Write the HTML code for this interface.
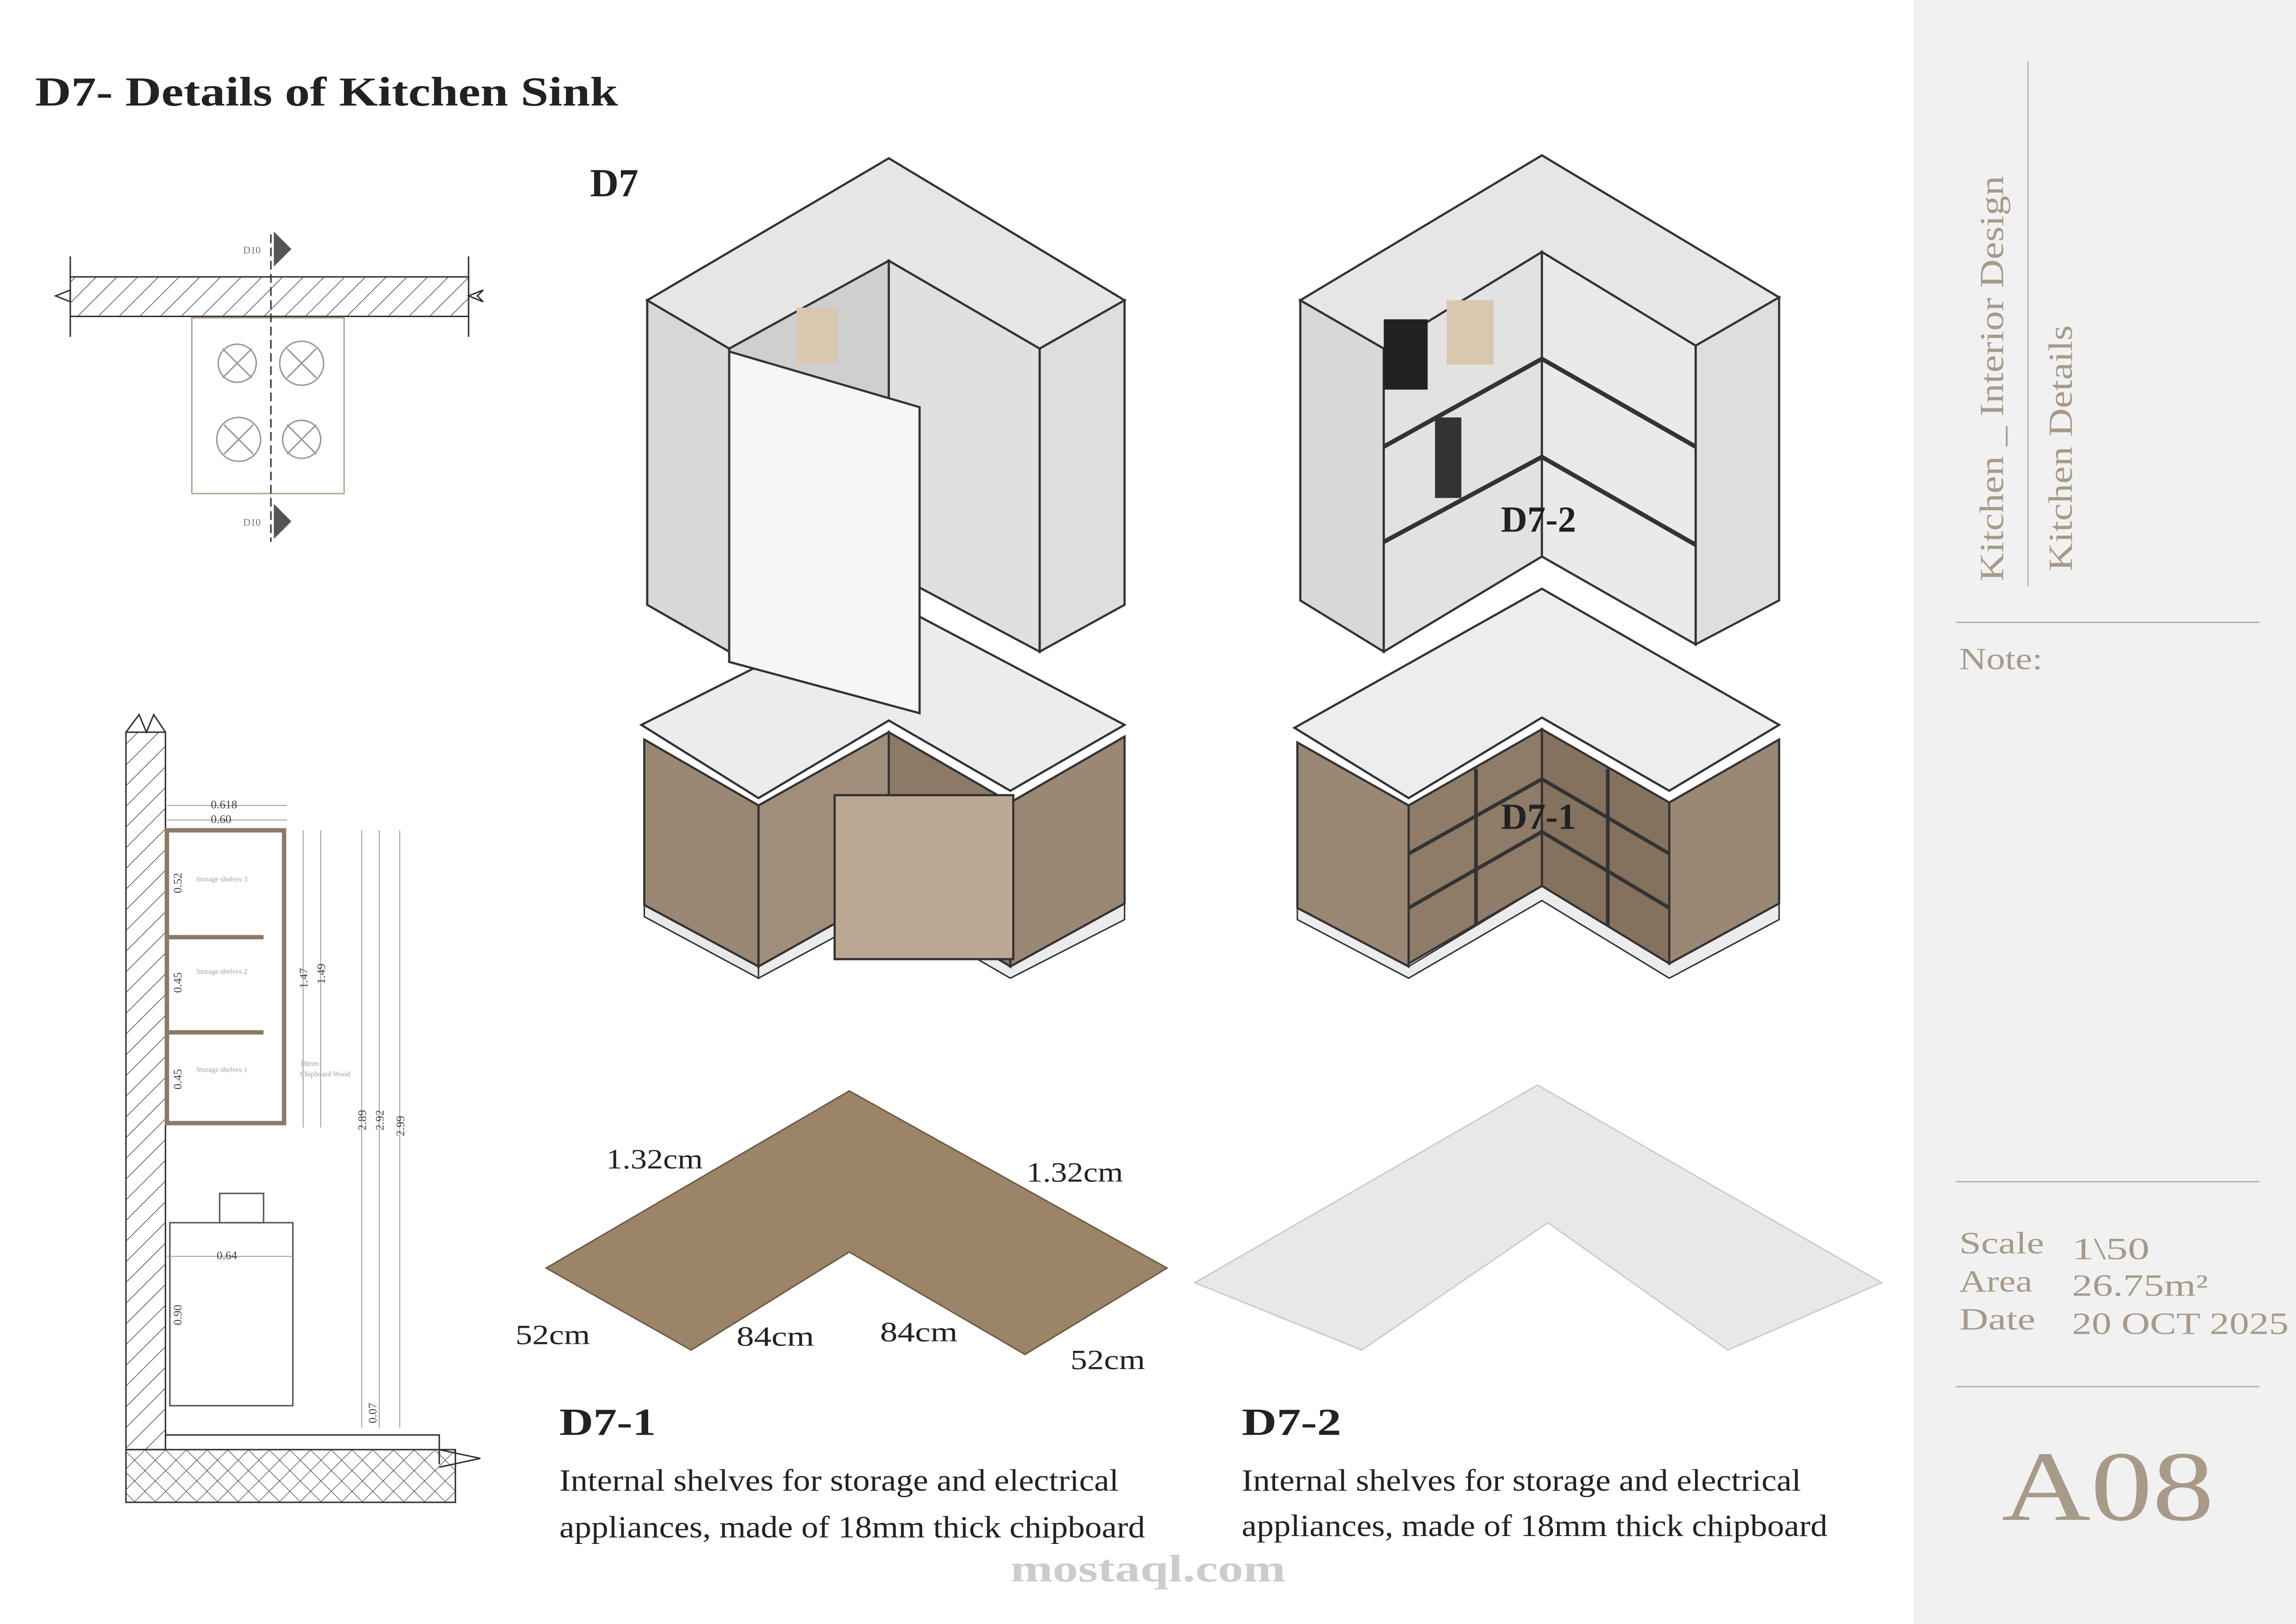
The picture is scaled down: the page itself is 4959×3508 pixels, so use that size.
<!DOCTYPE html>
<html><head><meta charset="utf-8"><style>
html,body{margin:0;padding:0;background:#fff;}
svg{display:block;}
text{font-family:"Liberation Serif",serif;}
</style></head><body>
<svg width="4959" height="3508" viewBox="0 0 1568 1109" xmlns="http://www.w3.org/2000/svg">
<defs>
<pattern id="hatch" width="10" height="10" patternUnits="userSpaceOnUse" patternTransform="rotate(45)"><line x1="0" y1="0" x2="0" y2="10" stroke="#333" stroke-width="0.8"/></pattern>
<pattern id="cross" width="10" height="10" patternUnits="userSpaceOnUse" patternTransform="rotate(45)"><line x1="0" y1="0" x2="0" y2="10" stroke="#333" stroke-width="0.7"/><line x1="0" y1="0" x2="10" y2="0" stroke="#333" stroke-width="0.7"/></pattern>
</defs>
<rect width="1568" height="1109" fill="#fff"/>
<rect x="1307" y="0" width="261" height="1109" fill="#f1f1f1"/>
<text x="24" y="72" font-size="28" font-weight="bold" fill="#222" textLength="398" lengthAdjust="spacingAndGlyphs">D7- Details of Kitchen Sink</text>

<!-- plan -->
<g stroke="#333" fill="none" stroke-width="1">
<rect x="48" y="189" width="272" height="27" fill="url(#hatch)"/>
<path d="M48,175 V189 M48,216 V230 M38,202 L48,198 L48,206Z M320,175 V230 M320,202 l10,-4 l-4,4 l4,4Z"/>
<rect x="131" y="217" width="104" height="120" stroke="#b5a58e"/>
<g stroke="#999"><circle cx="162" cy="248" r="13"/><circle cx="206" cy="248" r="15"/><circle cx="163" cy="300" r="15"/><circle cx="206" cy="300" r="13"/>
<path d="M152,238l20,20M172,238l-20,20M196,238l20,20M216,238l-20,20M153,290l20,20M173,290l-20,20M196,290l20,20M216,290l-20,20"/></g>
<line x1="185" y1="160" x2="185" y2="370" stroke-dasharray="6,3"/>
</g>
<path d="M187,158 L199,170 L187,182Z M187,344 L199,356 L187,368Z" fill="#555"/>
<text x="166" y="173" font-size="7" fill="#777">D10</text><text x="166" y="359" font-size="7" fill="#777">D10</text>

<!-- section -->
<g stroke="#333" fill="none" stroke-width="1">
<rect x="86" y="500" width="27" height="490" fill="url(#hatch)"/>
<path d="M86,500 L95,488 L100,500 L105,488 L113,500"/>
<rect x="86" y="990" width="225" height="36" fill="url(#cross)"/>
<path d="M113,980 H300 V1000 M300,990 L328,996 L300,1002"/>
<rect x="114" y="567" width="80" height="200" stroke="#8b7a66" stroke-width="3"/>
<line x1="114" y1="640" x2="180" y2="640" stroke="#8b7a66" stroke-width="3"/>
<line x1="114" y1="705" x2="180" y2="705" stroke="#8b7a66" stroke-width="3"/>
<rect x="116" y="835" width="84" height="125" stroke="#555"/>
<rect x="150" y="815" width="30" height="20" stroke="#555"/>
<g stroke="#999" stroke-width="0.6"><path d="M114,550 H196 M114,560 H196 M114,858 H200 M207,567 V770 M219,567 V770 M247,567 V975 M259,567 V975 M273,567 V975"/></g>
</g>
<g font-size="8" fill="#444"><text x="144" y="552">0.618</text><text x="144" y="562">0.60</text><text x="148" y="860">0.64</text>
<text transform="translate(124,610) rotate(-90)">0.52</text><text transform="translate(124,678) rotate(-90)">0.45</text><text transform="translate(124,744) rotate(-90)">0.45</text>
<text transform="translate(210,675) rotate(-90)">1.47</text><text transform="translate(222,672) rotate(-90)">1.49</text>
<text transform="translate(250,772) rotate(-90)">2.89</text><text transform="translate(262,772) rotate(-90)">2.92</text><text transform="translate(276,776) rotate(-90)">2.99</text>
<text transform="translate(124,905) rotate(-90)">0.90</text><text transform="translate(257,972) rotate(-90)">0.07</text></g>
<g font-size="5" fill="#a89a88"><text x="134" y="602">Storage shelves 3</text><text x="134" y="665">Storage shelves 2</text><text x="134" y="732">Storage shelves 1</text><text x="205" y="728">18mm</text><text x="205" y="735">Chipboard Wood</text></g>

<!-- D7 left iso -->
<text x="403" y="134" font-size="27" font-weight="bold" fill="#222">D7</text>
<g stroke="#333" stroke-width="1.5">
<polygon points="442,205 607,108 768,205 710,238 607,178 498,238" fill="#e6e6e6"/>
<polygon points="442,205 498,238 498,445 442,413" fill="#d8d8d8"/>
<polygon points="768,205 768,413 710,445 710,238" fill="#dedede"/>
<polygon points="498,238 607,178 607,390 498,450" fill="#cfcfcf"/>
<polygon points="607,178 710,238 710,445 607,390" fill="#e0e0e0"/>
<polygon points="440,618 518,660 518,668 440,626 Z" fill="#e8e8e8" stroke-width="1"/>
<polygon points="518,660 607,610 690,660 768,617 768,628 690,668 607,620 518,668Z" fill="#ececec" stroke-width="1"/>
<polygon points="440,505 518,550 518,660 440,618" fill="#9a8774"/>
<polygon points="518,550 607,500 607,610 518,660" fill="#a18e7a"/>
<polygon points="607,500 690,548 690,660 607,610" fill="#8c7966"/>
<polygon points="690,548 768,503 768,617 690,660" fill="#9a8774"/>
<polygon points="438,495 607,410 768,495 690,540 607,492 518,545" fill="#ececec"/>
<polygon points="498,240 628,278 628,487 498,452" fill="#f6f6f6"/>
<rect x="570" y="543" width="122" height="112" fill="#bba893"/>
</g>
<rect x="544" y="210" width="28" height="38" fill="#d9c7b0"/>

<!-- D7-2 right iso -->
<g stroke="#333" stroke-width="1.5">
<polygon points="888,205 1053,106 1215,203 1158,236 1053,172 945,238" fill="#e6e6e6"/>
<polygon points="888,205 945,238 945,445 888,410" fill="#d8d8d8"/>
<polygon points="1215,203 1215,410 1158,440 1158,236" fill="#dedede"/>
<polygon points="945,238 1053,172 1053,380 945,445" fill="#e2e2e2"/>
<polygon points="1053,172 1158,236 1158,440 1053,380" fill="#eaeaea"/>
<path d="M945,305 L1053,245 L1158,305 M945,370 L1053,312 L1158,372" fill="none" stroke-width="3"/>
<polygon points="886,620 962,660 1053,605 1140,658 1215,617 1215,628 1140,668 1053,615 962,668 886,628Z" fill="#ececec" stroke-width="1"/>
<polygon points="886,507 962,550 962,660 886,620" fill="#9a8774"/>
<polygon points="962,550 1053,498 1053,605 962,658" fill="#8f7c68"/>
<polygon points="1053,498 1140,548 1140,658 1053,605" fill="#84715e"/>
<polygon points="1140,548 1215,505 1215,617 1140,658" fill="#9a8774"/>
<polygon points="884,497 1053,402 1215,495 1140,540 1053,490 962,545" fill="#ededed"/>
<path d="M962,583 L1053,532 L1140,583 M962,620 L1053,568 L1140,620 M1008,525 V632 M1098,525 V632" fill="none" stroke-width="2.5"/>
</g>
<rect x="945" y="218" width="30" height="48" fill="#222"/><rect x="988" y="205" width="32" height="44" fill="#d9c7b0"/>
<rect x="980" y="285" width="18" height="55" fill="#333"/>
<text x="1025" y="363" font-size="25" font-weight="bold" fill="#222">D7-2</text>
<text x="1025" y="566" font-size="25" font-weight="bold" fill="#222">D7-1</text>

<!-- L shapes -->
<polygon points="373,866 580,745 797,866 700,925 580,855 472,922" fill="#9c8468" stroke="#6e5a45"/>
<polygon points="816,876 1050,741 1285,876 1180,922 1057,835 930,922" fill="#e8e8e8" stroke="#ccc"/>
<g font-size="19" fill="#222"><text x="414" y="798" textLength="66" lengthAdjust="spacingAndGlyphs">1.32cm</text><text x="701" y="807" textLength="66" lengthAdjust="spacingAndGlyphs">1.32cm</text>
<text x="352" y="918" textLength="51" lengthAdjust="spacingAndGlyphs">52cm</text><text x="503" y="919" textLength="53" lengthAdjust="spacingAndGlyphs">84cm</text><text x="601" y="916" textLength="53" lengthAdjust="spacingAndGlyphs">84cm</text><text x="731" y="935" textLength="51" lengthAdjust="spacingAndGlyphs">52cm</text></g>

<g fill="#222"><text x="382" y="980" font-size="26" font-weight="bold" textLength="66" lengthAdjust="spacingAndGlyphs">D7-1</text><text x="848" y="980" font-size="26" font-weight="bold" textLength="68" lengthAdjust="spacingAndGlyphs">D7-2</text>
<g font-size="21"><text x="382" y="1018" textLength="382" lengthAdjust="spacingAndGlyphs">Internal shelves for storage and electrical</text><text x="382" y="1050" textLength="400" lengthAdjust="spacingAndGlyphs">appliances, made of 18mm thick chipboard</text>
<text x="848" y="1018" textLength="382" lengthAdjust="spacingAndGlyphs">Internal shelves for storage and electrical</text><text x="848" y="1049" textLength="400" lengthAdjust="spacingAndGlyphs">appliances, made of 18mm thick chipboard</text></g></g>
<text x="690" y="1080" font-size="26" font-family="Liberation Sans,sans-serif" fill="#ccc" font-weight="bold" textLength="188" lengthAdjust="spacingAndGlyphs">mostaql.com</text>

<!-- right panel -->
<g stroke="#aaa" stroke-width="0.8"><line x1="1385" y1="42" x2="1385" y2="400"/><line x1="1336" y1="425" x2="1543" y2="425"/><line x1="1336" y1="807" x2="1543" y2="807"/><line x1="1336" y1="947" x2="1543" y2="947"/></g>
<g fill="#a89a88">
<text transform="translate(1368,397) rotate(-90)" font-size="23" textLength="277" lengthAdjust="spacingAndGlyphs">Kitchen _ Interior Design</text>
<text transform="translate(1415,390) rotate(-90)" font-size="23" textLength="168" lengthAdjust="spacingAndGlyphs">Kitchen Details</text>
<text x="1338" y="457" font-size="21" textLength="57" lengthAdjust="spacingAndGlyphs">Note:</text>
<g font-size="21"><text x="1338" y="856" textLength="58" lengthAdjust="spacingAndGlyphs">Scale</text><text x="1338" y="882" textLength="50" lengthAdjust="spacingAndGlyphs">Area</text><text x="1338" y="908" textLength="52" lengthAdjust="spacingAndGlyphs">Date</text>
<text x="1415" y="860" textLength="53" lengthAdjust="spacingAndGlyphs">1\50</text><text x="1415" y="885" textLength="93" lengthAdjust="spacingAndGlyphs">26.75m²</text><text x="1415" y="911" textLength="148" lengthAdjust="spacingAndGlyphs">20 OCT 2025</text></g>
<text x="1367" y="1038" font-size="68" textLength="145" lengthAdjust="spacingAndGlyphs">A08</text>
</g>
</svg>
</body></html>
